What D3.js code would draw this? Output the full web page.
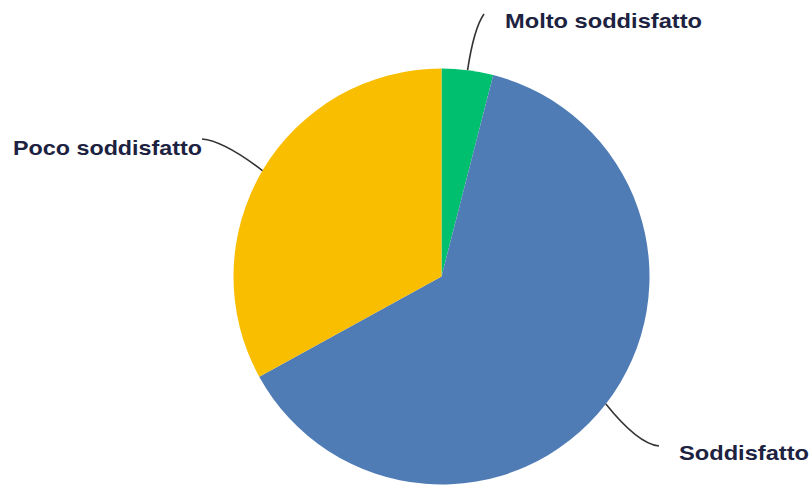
<!DOCTYPE html>
<html><head><meta charset="utf-8">
<script src="https://cdn.jsdelivr.net/npm/d3@7"></script>
<style>html,body{margin:0;padding:0;background:#fff;}svg{display:block;}</style>
</head><body>
<svg id="chart" width="812" height="486"></svg>
<script>
const categories = ["Molto soddisfatto", "Soddisfatto", "Poco soddisfatto"];
const values = [4, 63, 33];
const colors = ["#00BF6F", "#507CB6", "#F9BE00"];

const W = 812, H = 486, cx = 441.5, cy = 276.5, R = 208;
const svg = d3.select("#chart");
const g = svg.append("g").attr("transform", `translate(${cx},${cy})`);

const pie = d3.pie().sort(null).value(d => d.v)(categories.map((c, i) => ({c, v: values[i]})));
const arc = d3.arc().innerRadius(0).outerRadius(R);

g.selectAll("path.slice").data(pie).join("path")
  .attr("class", "slice")
  .attr("d", arc)
  .attr("fill", (d, i) => colors[i]);

// label layout (offsets relative to chart center)
const layout = {
  "Molto soddisfatto": {end: [484, 14], ctrl: [474, 28], tx: 505, ty: 28, w: 197},
  "Soddisfatto": {end: [659, 446], ctrl: [638, 444], tx: 679, ty: 460, w: 130},
  "Poco soddisfatto": {end: [202, 139], ctrl: [224, 141], tx: 13, ty: 155, w: 189}
};

pie.forEach(d => {
  const L = layout[d.data.c];
  const a = (d.startAngle + d.endAngle) / 2;
  const sx = cx + R * Math.sin(a), sy = cy - R * Math.cos(a);
  const p = d3.path();
  p.moveTo(sx, sy);
  p.quadraticCurveTo(L.ctrl[0], L.ctrl[1], L.end[0], L.end[1]);
  svg.append("path").attr("d", p.toString())
    .attr("fill", "none").attr("stroke", "#333").attr("stroke-width", 1.6);
  svg.append("text")
    .attr("x", L.tx).attr("y", L.ty)
    .attr("textLength", L.w).attr("lengthAdjust", "spacingAndGlyphs")
    .attr("font-family", "'Liberation Sans', Arial, sans-serif")
    .attr("font-weight", "bold").attr("font-size", 21)
    .attr("fill", "#1c2240")
    .text(d.data.c);
});
</script>
</body></html>
